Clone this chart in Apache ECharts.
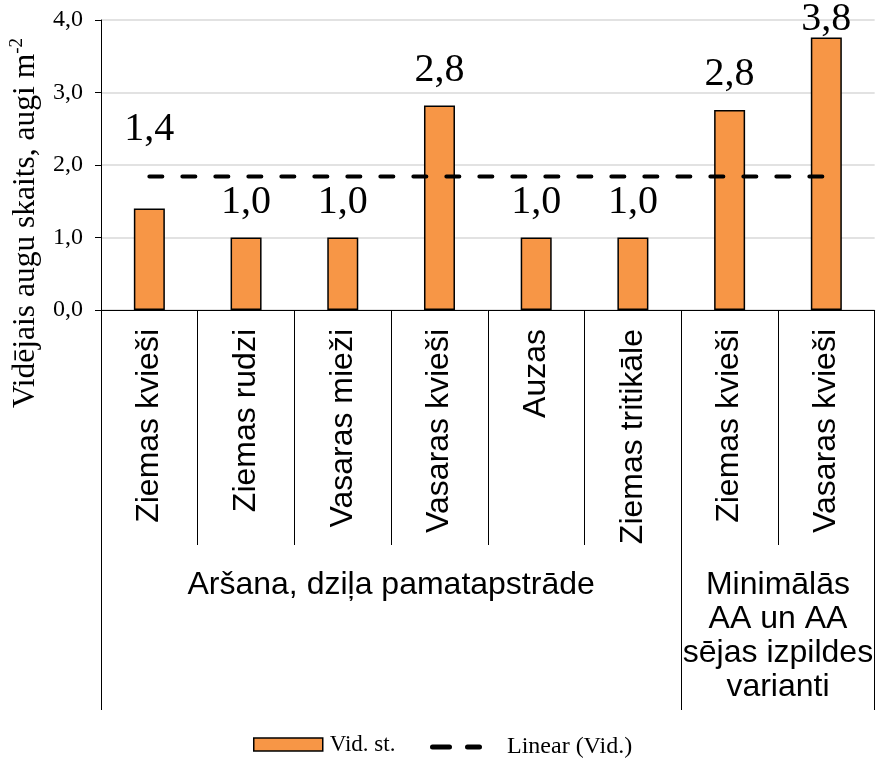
<!DOCTYPE html>
<html>
<head>
<meta charset="utf-8">
<script src="https://cdn.jsdelivr.net/npm/echarts@6/dist/echarts.min.js"></script>
<style>
  html, body { margin: 0; padding: 0; background: #ffffff; }
  #chart { width: 876px; height: 761px; }
</style>
</head>
<body>
<div id="chart"></div>
<script>
// Crop categories (inner axis level)
const crops = ['Ziemas kvieši', 'Ziemas rudzi', 'Vasaras mieži', 'Vasaras kvieši',
               'Auzas', 'Ziemas tritikāle', 'Ziemas kvieši', 'Vasaras kvieši'];
// Tillage groups (outer axis level): name, first and last+1 category index
const groupNames = ['Aršana, dziļa pamatapstrāde', 'Minimālās\nAA un AA\nsējas izpildes\nvarianti'];
const groupStart = [0, 6];
const groupEnd = [6, 8];
// Average plant count, plants per m²
const vidSt = [1.4, 1.0, 1.0, 2.82, 1.0, 1.0, 2.76, 3.76];
// Linear trend of the average
const linearVid = [1.84, 1.84, 1.84, 1.84, 1.84, 1.84, 1.84, 1.84];
// Y axis ticks
const yTicks = [0, 1, 2, 3, 4];

const fmt = v => v.toFixed(1).replace('.', ',');
const serif = '"Liberation Serif", "Times New Roman", serif';
const sans = '"Liberation Sans", Arial, sans-serif';

// Label lift above a few bars so they clear the trend line / top edge
const labelLift = { 0: 59, 7: -2 };

const chart = echarts.init(document.getElementById('chart'), null, { renderer: 'canvas' });

const groupCenters = groupStart.map((s, i) => (s + groupEnd[i]) / 2);
const groupEdges = [groupStart[0]].concat(groupEnd);

chart.setOption({
  backgroundColor: '#ffffff',
  animation: false,
  grid: { left: 100, right: 1, top: 20, bottom: 451, containLabel: false },
  xAxis: [
    {
      type: 'category',
      position: 'bottom',
      data: crops,
      boundaryGap: true,
      axisLine: { show: true, lineStyle: { color: '#000', width: 1 } },
      axisTick: { show: true, interval: 0, alignWithLabel: false, length: 235,
                  lineStyle: { color: '#000', width: 1 } },
      axisLabel: { interval: 0, rotate: 90, margin: 19, color: '#000',
                   fontFamily: sans, fontSize: 32 },
      splitLine: { show: false }
    },
    {
      type: 'value',
      position: 'bottom',
      min: 0,
      max: crops.length,
      axisLine: { show: false },
      axisTick: { show: true, customValues: groupEdges, length: 400,
                  lineStyle: { color: '#000', width: 1 } },
      axisLabel: {
        customValues: groupCenters,
        formatter: v => groupNames[groupCenters.indexOf(v)] || '',
        margin: 258, color: '#000', fontFamily: sans, fontSize: 32,
        lineHeight: 34, verticalAlign: 'top', align: 'center'
      },
      splitLine: { show: false }
    }
  ],
  yAxis: {
    type: 'value',
    min: yTicks[0],
    max: yTicks[yTicks.length - 1],
    interval: 1,
    name: '{a|Vidējais augu skaits, augi m}{sup|-2}',
    nameLocation: 'middle',
    nameRotate: 90,
    nameGap: 57,
    nameTextStyle: {
      padding: [0, 116, 0, 0],
      rich: {
        a: { fontFamily: serif, fontSize: 31.5, color: '#000', lineHeight: 36 },
        sup: { fontFamily: serif, fontSize: 19, color: '#000', lineHeight: 20, verticalAlign: 'top' }
      }
    },
    axisLine: { show: true, lineStyle: { color: '#000', width: 1 } },
    axisTick: { show: true, length: 6, lineStyle: { color: '#000', width: 1 } },
    axisLabel: { formatter: v => fmt(v), margin: 18, color: '#000',
                 fontFamily: serif, fontSize: 24 },
    splitLine: { show: true, lineStyle: { color: '#d9d9d9', width: 1.5 } }
  },
  legend: [
    {
      data: [{ name: 'Vid. st.', icon: 'rect' }],
      left: 253, top: 733, padding: 0,
      itemWidth: 69, itemHeight: 13, itemGap: 0,
      itemStyle: { borderColor: '#000', borderWidth: 1.5 },
      textStyle: { fontFamily: serif, fontSize: 23, color: '#000', padding: [0, 0, 0, 2] }
    },
    {
      data: [{ name: 'Linear (Vid.)',
               icon: 'path://M2.5,0h17a2.5,2.5 0 0 1 0,5h-17a2.5,2.5 0 0 1 0,-5z M37.5,0h12a2.5,2.5 0 0 1 0,5h-12a2.5,2.5 0 0 1 0,-5z' }],
      left: 430, top: 735, padding: 0,
      itemWidth: 52, itemHeight: 5, itemGap: 0,
      textStyle: { fontFamily: serif, fontSize: 24, color: '#000', padding: [0, 0, 0, 20] }
    }
  ],
  series: [
    {
      name: 'Vid. st.',
      type: 'bar',
      xAxisIndex: 0,
      barWidth: 31,
      data: vidSt.map((v, i) => labelLift[i] !== undefined
        ? { value: v, label: { distance: labelLift[i] } }
        : v),
      itemStyle: { color: '#f79646', borderColor: '#000', borderWidth: 1.5 },
      label: {
        show: true, position: 'top', distance: 15,
        formatter: p => fmt(p.value),
        fontFamily: serif, fontSize: 40, color: '#000'
      },
      z: 2
    },
    {
      name: 'Linear (Vid.)',
      type: 'line',
      xAxisIndex: 0,
      data: linearVid,
      symbol: 'none',
      lineStyle: { color: '#000', width: 4, type: [13, 20], cap: 'round' },
      itemStyle: { color: '#000' },
      z: 3
    }
  ]
});
</script>
</body>
</html>
